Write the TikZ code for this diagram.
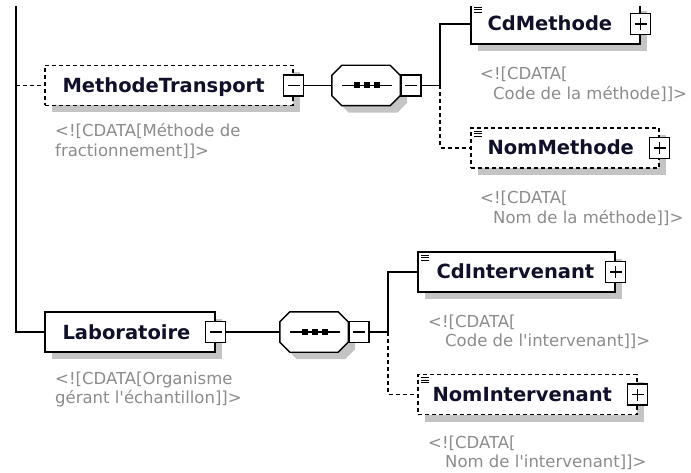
\documentclass[tikz,border=0pt]{standalone}
\usepackage{fontspec}
\newfontfamily\dv{DejaVu Sans}
\usetikzlibrary{calc,shadows}
\definecolor{shd}{HTML}{C4C4C4}
\definecolor{cdg}{HTML}{8C8C8C}
\definecolor{elc}{HTML}{10102A}
\newcommand\octpath[1]{([xshift=10pt]#1.north west) -- ([xshift=-10pt]#1.north east) -- ([yshift=-10pt]#1.north east) -- ([yshift=10pt]#1.south east) -- ([xshift=-10pt]#1.south east) -- ([xshift=10pt]#1.south west) -- ([yshift=10pt]#1.south west) -- ([yshift=-10pt]#1.north west) -- cycle}
\begin{document}
\begin{tikzpicture}[x=1pt,y=-1pt,
  conn/.style={line width=1.7pt, black},
  dashconn/.style={conn, dash pattern=on 4pt off 3pt},
  elbox/.style={draw=black, line width=1.4pt, fill=white, rectangle, minimum height=40pt, inner sep=0pt,
    general shadow={fill=shd, shadow xshift=7pt, shadow yshift=-7pt}},
  optbox/.style={elbox, dash pattern=on 4pt off 3pt},
  eltext/.style={font=\dv\bfseries\fontsize{19.5}{22}\selectfont, text=elc, inner sep=0pt, anchor=base west},
  cdtext/.style={font=\dv\fontsize{16.5}{19.5}\selectfont, text=cdg, inner sep=0pt, anchor=base west, align=left},
  pmbox/.style={draw=black, line width=1.3pt, fill=white, rectangle, minimum width=20pt, minimum height=21pt, inner sep=0pt},
  seqnode/.style={rectangle, inner sep=0pt, draw=none, minimum width=68pt, minimum height=40pt},
  octline/.style={draw=black, line width=1.4pt, fill=white},
  icon/.style={line width=1pt, black},
]
\fill[white] (0,0) rectangle (691,473);
\useasboundingbox (0,0) rectangle (691,473);
\clip (0,7) rectangle (691,473);

% ---------- element boxes ----------
\node[optbox, minimum width=248pt] (mt) at (169,85.5) {};
\node[elbox, minimum width=169pt] (cdm) at (555.5,24) {};
\node[optbox, minimum width=188pt] (nmm) at (565,148) {};
\node[elbox, minimum width=170pt] (lab) at (130,332) {};
\node[elbox, minimum width=197pt] (cdi) at (516.5,272) {};
\node[optbox, minimum width=219pt] (nmi) at (527.5,394.5) {};

% labels
\node[eltext] (mtl) at ([xshift=18pt,yshift=-7pt]mt.west) {MethodeTransport};
\node[eltext] (cdml) at ([xshift=17pt,yshift=-7pt]cdm.west) {CdMethode};
\node[eltext] (nmml) at ([xshift=17pt,yshift=-7pt]nmm.west) {NomMethode};
\node[eltext] (labl) at ([xshift=18pt,yshift=-7pt]lab.west) {Laboratoire};
\node[eltext] (cdil) at ([xshift=19pt,yshift=-7pt]cdi.west) {CdIntervenant};
\node[eltext] (nmil) at ([xshift=15pt,yshift=-7pt]nmi.west) {NomIntervenant};

% icons (simple type)
\foreach \n in {cdm,nmm,cdi,nmi}{
  \draw[icon] ([xshift=4pt,yshift=-4pt]\n.north west) -- ++(8,0);
  \draw[icon] ([xshift=4pt,yshift=-6.5pt]\n.north west) -- ++(8,0);
  \draw[icon] ([xshift=4pt,yshift=-9pt]\n.north west) -- ++(8,0);
}

% expand / collapse boxes
\node[pmbox] (mtm) at (mt.east) {};
\node[pmbox] (labm) at (lab.east) {};
\node[pmbox] (cdmp) at (cdm.east) {};
\node[pmbox] (nmmp) at (nmm.east) {};
\node[pmbox] (cdip) at (cdi.east) {};
\node[pmbox] (nmip) at (nmi.east) {};
\foreach \n in {mtm,labm,cdmp,nmmp,cdip,nmip}{
  \draw[line width=1.3pt] ([xshift=-6pt]\n.center) -- ([xshift=6pt]\n.center);
}
\foreach \n in {cdmp,nmmp,cdip,nmip}{
  \draw[line width=1.3pt] ([yshift=-6pt]\n.center) -- ([yshift=6pt]\n.center);
}

% ---------- sequence compositors ----------
\node[seqnode] (seq1) at (366,85.5) {};
\node[seqnode] (seq2) at (314,332) {};
\foreach \s in {seq1,seq2}{
  \fill[shd, transform canvas={xshift=7pt,yshift=-7pt}] \octpath{\s};
  \path[octline] \octpath{\s};
  \draw[line width=1.4pt] ([xshift=10pt]\s.west) -- ([xshift=-8pt]\s.east);
  \foreach \d in {-9,1,11}{
    \fill ([xshift=\d pt]\s.center) +(-3,-3) rectangle +(3,3);
  }
}
\node[pmbox, anchor=west] (s1m) at (seq1.east) {};
\node[pmbox, anchor=west] (s2m) at (seq2.east) {};
\foreach \n in {s1m,s2m}{
  \draw[line width=1.3pt] ([xshift=-6pt]\n.center) -- ([xshift=6pt]\n.center);
}

% ---------- connectors ----------
\coordinate (top) at (16,0);
\coordinate (j1) at (16,85.5);
\coordinate (b1) at (440,85.5);
\coordinate (b2) at (388,332);
\draw[conn] (top) |- (lab.west);
\draw[dashconn] (j1) -- (mt.west);
\draw[conn] (mtm.east) -- (seq1.west);
\draw[conn] (s1m.east) -- (b1);
\draw[conn] (b1) |- (cdm.west);
\draw[dashconn] (b1) |- (nmm.west);
\draw[conn] (labm.east) -- (seq2.west);
\draw[conn] (s2m.east) -- (b2);
\draw[conn] (b2) |- (cdi.west);
\draw[dashconn] (b2) |- (nmi.west);

% ---------- annotations (anchored on the baseline of the last line) ----------
\node[cdtext] (mtc) at (55,156.5) {<![CDATA[Méthode de\\fractionnement]]>};
\node[cdtext] (cdmc) at (480,99.5) {<![CDATA[\\\hspace*{13pt}Code de la méthode]]>};
\node[cdtext] (nmmc) at (480,223.5) {<![CDATA[\\\hspace*{13pt}Nom de la méthode]]>};
\node[cdtext] (labc) at (55,403.5) {<![CDATA[Organisme\\gérant l'échantillon]]>};
\node[cdtext] (cdic) at (428,346.5) {<![CDATA[\\\hspace*{17pt}Code de l'intervenant]]>};
\node[cdtext] (nmic) at (428,467.5) {<![CDATA[\\\hspace*{17pt}Nom de l'intervenant]]>};
\end{tikzpicture}
\end{document}
